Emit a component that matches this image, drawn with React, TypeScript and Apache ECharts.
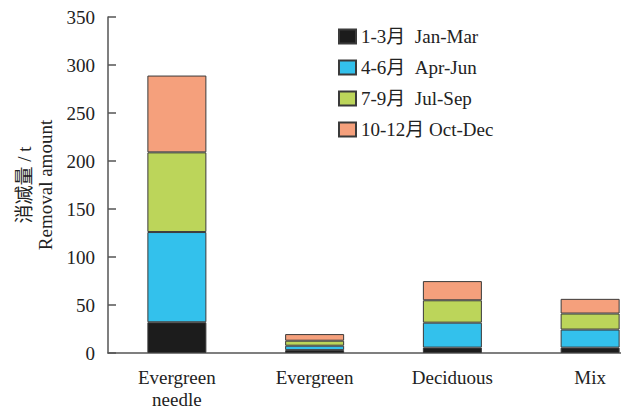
import React, { useEffect, useRef } from "react";
import * as echarts from "echarts";

const categories = ["Evergreen\nneedle", "Evergreen", "Deciduous", "Mix"];
const seriesNames = ["1-3月  Jan-Mar", "4-6月  Apr-Jun", "7-9月  Jul-Sep", "10-12月 Oct-Dec"];
const janMar = [32, 3, 5.6, 5.6];
const aprJun = [94, 4.6, 26, 18.8];
const julSep = [83, 5.2, 23.3, 16.7];
const octDec = [80, 6.9, 20, 15.3];
const yTicks = { min: 0, max: 350, interval: 50 };
const colors = ["#1c1c1c", "#33c1ec", "#bcd55a", "#f5a07c"];

const FONT = "Liberation Serif, Noto Sans CJK SC, serif";

export default function App() {
  const ref = useRef<HTMLDivElement>(null);
  useEffect(() => {
    if (!ref.current) return;
    const chart = echarts.init(ref.current, null, { renderer: "svg" });
    const data = [janMar, aprJun, julSep, octDec];
    chart.setOption({
      animation: false,
      backgroundColor: "#ffffff",
      textStyle: { fontFamily: FONT },
      grid: { left: 108, width: 551, top: 17, bottom: 56, containLabel: false, outerBoundsMode: "none" },
      legend: {
        orient: "vertical",
        left: 333,
        top: 22,
        itemWidth: 17,
        itemHeight: 14,
        itemGap: 12,
        icon: "rect",
        textStyle: { fontFamily: FONT, fontSize: 19, color: "#222" },
        data: seriesNames,
      },
      xAxis: {
        type: "category",
        data: categories,
        axisLine: { lineStyle: { color: "#555", width: 1.5 } },
        axisTick: { show: false },
        axisLabel: { color: "#222", fontSize: 19, fontFamily: FONT, margin: 13, lineHeight: 22 },
      },
      yAxis: {
        type: "value",
        min: yTicks.min,
        max: yTicks.max,
        interval: yTicks.interval,
        splitLine: { show: false },
        axisLine: { show: true, lineStyle: { color: "#555", width: 1.5 } },
        axisTick: { show: true, inside: true, length: 8, lineStyle: { color: "#555", width: 1.5 } },
        axisLabel: { color: "#222", fontSize: 19, fontFamily: FONT, margin: 13 },
        name: "消减量 / t\nRemoval amount",
        nameLocation: "middle",
        nameRotate: 90,
        nameGap: 48,
        nameTextStyle: { color: "#222", fontSize: 19, fontFamily: FONT, lineHeight: 21 },
      },
      series: data.map((d, i) => ({
        name: seriesNames[i],
        type: "bar",
        stack: "total",
        barWidth: 59,
        data: d,
        itemStyle: { color: colors[i], borderColor: "#3a3a3a", borderWidth: 1 },
      })),
    });
    return () => chart.dispose();
  }, []);
  return <div ref={ref} style={{ width: 621, height: 409, position: "absolute", left: 0, top: 0 }} />;
}
